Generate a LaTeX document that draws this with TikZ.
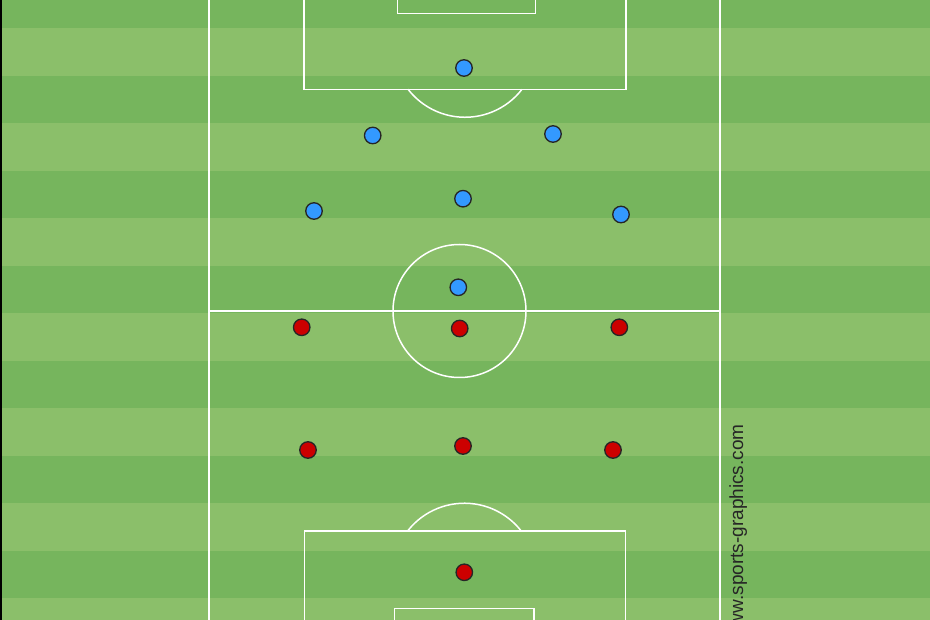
\documentclass[tikz,border=0pt]{standalone}
\usepackage{fontspec}
\setmainfont{Liberation Sans}
\usepackage{tikz}
\definecolor{pitchdark}{RGB}{118,181,93}
\definecolor{pitchlight}{RGB}{139,191,106}
\definecolor{homeblue}{RGB}{51,153,255}
\definecolor{awayred}{RGB}{204,0,0}
\tikzset{%
  pitchline/.style={draw=white, line width=1.5pt},
  player/.style={circle, draw=black!85, line width=1.3pt, minimum size=16.5pt, inner sep=0pt},
  blueplayer/.style={player, fill=homeblue},
  redplayer/.style={player, fill=awayred}
}
\begin{document}
\begin{tikzpicture}[x=1pt, y=-1pt]
  \clip (0,0) rectangle (930,620);
  \foreach \k in {0,2,...,12}
    \fill[pitchdark] (0,{-19.2+47.5*\k}) rectangle (930,{28.3+47.5*\k});
  \foreach \k in {1,3,...,13}
    \fill[pitchlight] (0,{-19.2+47.5*\k}) rectangle (930,{28.3+47.5*\k});
  \fill[black] (0,0) rectangle (2,620);

  \draw[pitchline] (209,-10) rectangle (720,630);
  \draw[pitchline] (209,311) -- (720,311);
  \draw[pitchline] (459.5,311) circle[radius=66.5pt];
  \draw[pitchline] (304,-10) rectangle (626,89.3);
  \draw[pitchline] (397.3,-10) rectangle (535.7,13.3);
  \draw[pitchline] (522,89.3) arc[start angle=-37.7, end angle=-142.3, radius=72pt];
  \draw[pitchline] (304.3,630) rectangle (625.3,531);
  \draw[pitchline] (394.7,630) rectangle (534,608.3);
  \draw[pitchline] (407.6,531) arc[start angle=142.1, end angle=37.9, radius=72pt];

  \node[blueplayer] (b1) at (464,68) {};
  \node[blueplayer] (b2) at (372.7,135.5) {};
  \node[blueplayer] (b3) at (553,134) {};
  \node[blueplayer] (b4) at (314,211) {};
  \node[blueplayer] (b5) at (463,198.7) {};
  \node[blueplayer] (b6) at (621,214.5) {};
  \node[blueplayer] (b7) at (458.3,287.3) {};

  \node[redplayer] (r1) at (301.7,327.3) {};
  \node[redplayer] (r2) at (459.7,328.5) {};
  \node[redplayer] (r3) at (619.3,327.3) {};
  \node[redplayer] (r4) at (308,450) {};
  \node[redplayer] (r5) at (463,446) {};
  \node[redplayer] (r6) at (613,450) {};
  \node[redplayer] (r7) at (464.3,572.3) {};

  \node[rotate=90, anchor=base west, inner sep=0pt, text=black!85,
        font=\fontsize{19}{19}\selectfont] (site) at (743,641) {www.sports-graphics.com};
\end{tikzpicture}
\end{document}
